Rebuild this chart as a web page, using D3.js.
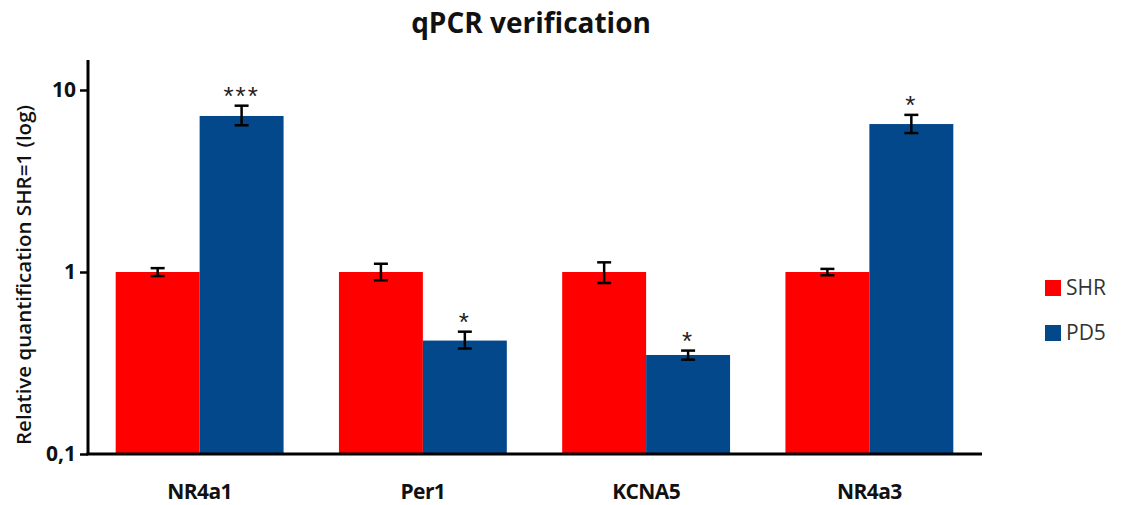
<!DOCTYPE html>
<html>
<head>
<meta charset="utf-8">
<script src="https://cdn.jsdelivr.net/npm/d3@7"></script>
<style>
  html, body { margin: 0; padding: 0; background: #fff; }
  svg { display: block; }
</style>
</head>
<body>
<svg id="chart" width="1122" height="505"></svg>
<script>
// Gene expression, relative to SHR (log scale)
const genes = ["NR4a1", "Per1", "KCNA5", "NR4a3"];
const seriesNames = ["SHR", "PD5"];
const shrValues = [1, 1, 1, 1];
const shrUpper  = [1.05, 1.11, 1.13, 1.04];
const shrLower  = [0.95, 0.90, 0.87, 0.96];
const pd5Values = [7.2, 0.42, 0.35, 6.5];
const pd5Upper  = [8.2, 0.47, 0.37, 7.3];
const pd5Lower  = [6.4, 0.38, 0.33, 5.8];
const pd5Stars  = ["***", "*", "*", "*"];
const yTicks = [0.1, 1, 10];
const yTickLabels = ["0,1", "1", "10"];
const colors = ["#ff0000", "#03488a"];

const svg = d3.select("#chart");
const plotLeft = 88, plotRight = 981, plotTop = 60, plotBottom = 454;

const x = d3.scaleBand().domain(genes).range([plotLeft, plotRight]).padding(0);
const groupFrac = 0.752;
const sub = d3.scaleBand().domain(seriesNames)
  .range([0, x.bandwidth() * groupFrac]).padding(0);
const groupOffset = x.bandwidth() * (1 - groupFrac) / 2;

// Log axis: 0.1 at the baseline, 10 near the top
const yFit = d3.scaleLog().domain([0.1, 10]).range([plotBottom, 90]);

const series = [
  { name: "SHR", values: shrValues, up: shrUpper, lo: shrLower },
  { name: "PD5", values: pd5Values, up: pd5Upper, lo: pd5Lower }
];

// Bars
series.forEach((s, si) => {
  svg.append("g").selectAll("rect").data(genes).join("rect")
    .attr("x", (g) => x(g) + groupOffset + sub(s.name))
    .attr("width", sub.bandwidth())
    .attr("y", (g, i) => yFit(s.values[i]))
    .attr("height", (g, i) => plotBottom - yFit(s.values[i]))
    .attr("fill", colors[si]);
});

// Error bars
series.forEach((s) => {
  const eg = svg.append("g").attr("stroke", "#000").attr("stroke-width", 2.5);
  genes.forEach((g, i) => {
    const cx = x(g) + groupOffset + sub(s.name) + sub.bandwidth() / 2;
    const y1 = yFit(s.up[i]), y2 = yFit(s.lo[i]);
    eg.append("line").attr("x1", cx).attr("x2", cx).attr("y1", y1).attr("y2", y2);
    eg.append("line").attr("x1", cx - 7).attr("x2", cx + 7).attr("y1", y1).attr("y2", y1);
    eg.append("line").attr("x1", cx - 7).attr("x2", cx + 7).attr("y1", y2).attr("y2", y2);
  });
});

// Significance stars
genes.forEach((g, i) => {
  const cx = x(g) + groupOffset + sub("PD5") + sub.bandwidth() / 2;
  svg.append("text")
    .attr("x", cx).attr("y", yFit(pd5Upper[i]) - 1)
    .attr("text-anchor", "middle")
    .attr("font-family", "Liberation Sans, Arial, sans-serif")
    .attr("font-size", 26).attr("fill", "#222")
    .attr("letter-spacing", 2)
    .text(pd5Stars[i]);
});

// Y axis
const yAxis = d3.axisLeft(yFit).tickValues(yTicks)
  .tickFormat((d, i) => yTickLabels[i]).tickSize(8).tickPadding(4);
const yg = svg.append("g").attr("transform", `translate(${plotLeft},0)`).call(yAxis);
yg.select(".domain").remove();
yg.selectAll(".tick line").attr("stroke", "#000").attr("stroke-width", 2.5);
yg.selectAll(".tick text")
  .attr("font-family", "Open Sans, Arial, sans-serif")
  .attr("font-weight", "bold").attr("font-size", 21).attr("fill", "#111");
svg.append("line").attr("x1", plotLeft).attr("x2", plotLeft).attr("y1", plotTop).attr("y2", plotBottom + 1)
  .attr("stroke", "#000").attr("stroke-width", 3);

// X axis
const xAxis = d3.axisBottom(x).tickSize(0).tickPadding(30);
const xg = svg.append("g").attr("transform", `translate(0,${plotBottom})`).call(xAxis);
xg.select(".domain").remove();
xg.selectAll(".tick text")
  .attr("font-family", "Open Sans, Arial, sans-serif")
  .attr("font-weight", "bold").attr("font-size", 21).attr("fill", "#111")
  .attr("letter-spacing", -0.6);
svg.append("line").attr("x1", plotLeft - 1.5).attr("x2", 982).attr("y1", plotBottom).attr("y2", plotBottom)
  .attr("stroke", "#000").attr("stroke-width", 3);

// Title
svg.append("text").attr("x", 531).attr("y", 33).attr("text-anchor", "middle")
  .attr("font-family", "Open Sans, Arial, sans-serif")
  .attr("font-weight", "bold").attr("font-size", 28).attr("fill", "#111")
  .text("qPCR verification");

// Y label
svg.append("text")
  .attr("transform", "translate(31,275) rotate(-90)")
  .attr("text-anchor", "middle")
  .attr("font-family", "Open Sans, Arial, sans-serif")
  .attr("font-weight", "600").attr("font-size", 20.5).attr("fill", "#111")
  .text("Relative quantification SHR=1 (log)");

// Legend
const legend = svg.append("g");
seriesNames.forEach((n, i) => {
  const ly = 288 + i * 45;
  legend.append("rect").attr("x", 1045).attr("y", ly - 8).attr("width", 16).attr("height", 16)
    .attr("fill", colors[i]);
  legend.append("text").attr("x", 1066).attr("y", ly).attr("dy", "0.35em")
    .attr("font-family", "Open Sans, Arial, sans-serif")
    .attr("font-size", 21).attr("fill", "#333").text(n);
});
</script>
</body>
</html>
